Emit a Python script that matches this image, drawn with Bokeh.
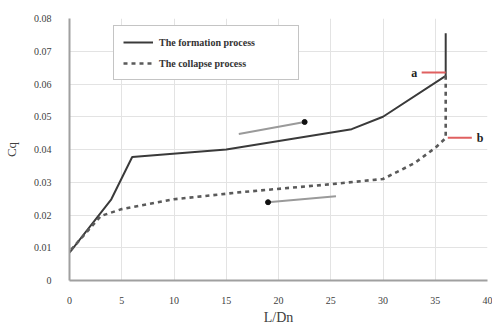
from bokeh.plotting import figure
from bokeh.models import Legend, LegendItem, FixedTicker, Range1d, CustomJSTickFormatter
from bokeh.core.properties import value
from bokeh.embed import file_html
from bokeh.resources import INLINE

# Data
form_x = [0, 4, 6, 15, 27, 30, 36, 36]
form_y = [0.0085, 0.0248, 0.0377, 0.0400, 0.0462, 0.0500, 0.0625, 0.0755]
coll_x = [36, 36, 35, 33, 30, 25, 16.5, 10, 5, 3, 0]
coll_y = [0.0625, 0.0435, 0.0405, 0.0358, 0.0310, 0.0294, 0.0270, 0.0248, 0.0218, 0.0197, 0.0088]

x_ticks = [0, 5, 10, 15, 20, 25, 30, 35, 40]
y_ticks = [0, 0.01, 0.02, 0.03, 0.04, 0.05, 0.06, 0.07, 0.08]
y_labels = ["0", "0.01", "0.02", "0.03", "0.04", "0.05", "0.06", "0.07", "0.08"]

# annotations (arrows, markers)
arrow_up_x = [16.2, 22.5]
arrow_up_y = [0.0447, 0.0484]
arrow_dn_x = [25.5, 19.0]
arrow_dn_y = [0.0257, 0.0239]
mark_a_x = [33.7, 36.0]
mark_a_y = [0.0635, 0.0635]
mark_b_x = [36.2, 38.5]
mark_b_y = [0.0436, 0.0436]
label_text = ["a", "b"]
label_x = [33.0, 39.3]
label_y = [0.0635, 0.0436]

serif = "Liberation Serif"

p = figure(width=492, height=327, output_backend="svg", toolbar_location=None,
           x_range=Range1d(0, 40), y_range=Range1d(0, 0.08),
           min_border_left=67, min_border_right=5, min_border_top=18, min_border_bottom=45)
p.outline_line_color = None
p.background_fill_color = "white"
p.border_fill_color = "white"

p.xaxis.ticker = FixedTicker(ticks=x_ticks)
p.yaxis.ticker = FixedTicker(ticks=y_ticks)
p.yaxis.formatter = CustomJSTickFormatter(args=dict(t=y_ticks, l=y_labels), code="""
    for (let i = 0; i < t.length; i++) { if (Math.abs(t[i]-tick) < 1e-9) return l[i]; }
    return tick.toFixed(2);
""")
for ax in (p.xaxis[0], p.yaxis[0]):
    ax.axis_line_color = "#a0a0a0"
    ax.axis_line_width = 2
    ax.major_tick_line_color = None
    ax.minor_tick_line_color = None
    ax.major_label_text_font = serif
    ax.major_label_text_font_size = "10px"
    ax.major_label_text_color = "#404040"
    ax.axis_label_text_font = serif
    ax.axis_label_text_font_style = "normal"
    ax.axis_label_text_color = "#404040"
p.xaxis.axis_label = "L/Dn"
p.xaxis.axis_label_text_font_size = "14px"
p.xaxis.major_label_standoff = 10
p.xaxis.axis_label_standoff = 3
p.yaxis.axis_label = "Cq"
p.yaxis.axis_label_text_font_size = "13px"
p.yaxis.major_label_standoff = 12
p.yaxis.axis_label_standoff = 12

p.xgrid.grid_line_color = "#e3e3e3"
p.ygrid.grid_line_color = "#e3e3e3"
p.xgrid.grid_line_width = 1
p.ygrid.grid_line_width = 1

r_form = p.line(form_x, form_y, line_color="#3a3a3a", line_width=2)
r_coll = p.line(coll_x, coll_y, line_color="#5a5a5a", line_width=2.6, line_dash="4 4")

# arrows
p.line(arrow_up_x, arrow_up_y, line_color="#9a9a9a", line_width=2)
p.scatter([arrow_up_x[-1]], [arrow_up_y[-1]], size=5, color="#111111")
p.line(arrow_dn_x, arrow_dn_y, line_color="#9a9a9a", line_width=2)
p.scatter([arrow_dn_x[-1]], [arrow_dn_y[-1]], size=5, color="#111111")

# a / b markers
p.line(mark_a_x, mark_a_y, line_color="#e06060", line_width=2)
p.line(mark_b_x, mark_b_y, line_color="#e06060", line_width=2)
p.text(label_x, label_y, text=label_text, text_font=value(serif), text_font_size="12px",
       text_font_style="bold", text_color="#222222", text_align="center", text_baseline="middle")

legend = Legend(items=[LegendItem(label="The formation process", renderers=[r_form]),
                       LegendItem(label="The collapse process", renderers=[r_coll])],
                location=(44, 200))
legend.label_text_font = serif
legend.label_text_font_size = "10px"
legend.label_text_font_style = "bold"
legend.label_text_color = "#333333"
legend.border_line_color = "#8a8a8a"
legend.border_line_width = 1.5
legend.background_fill_color = "white"
legend.background_fill_alpha = 1
legend.glyph_width = 30
legend.glyph_height = 14
legend.label_height = 14
legend.padding = 9
legend.spacing = 7
legend.margin = 0
legend.label_standoff = 6
legend.label_width = 130
p.add_layout(legend)

open("out.html", "w").write(file_html(p, INLINE))
